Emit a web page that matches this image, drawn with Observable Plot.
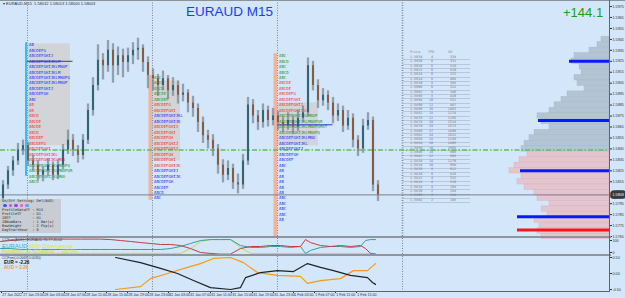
<!DOCTYPE html>
<html><head><meta charset="utf-8">
<script src="https://cdn.jsdelivr.net/npm/d3@7"></script>
<script src="https://cdn.jsdelivr.net/npm/@observablehq/plot@0.6"></script>
<style>
html,body{margin:0;padding:0;background:#d4e6fa;}
#wrap{position:relative;width:625px;height:298px;background:#d4e6fa;overflow:hidden;font-family:"Liberation Sans",Arial,sans-serif;}
.a{position:absolute;white-space:pre;line-height:1;}
.mono{font-family:"DejaVu Sans Mono",monospace;}
</style></head>
<body><div id="wrap"></div>
<script>
// ---------- DATA ----------
const open  = [1.5800,1.5812,1.5825,1.5834,1.5844,1.5848,1.5834,1.5830,1.5821,1.5825,
1.5830,1.5821,1.5830,1.5844,1.5853,1.5844,1.5839,1.5853,1.5880,1.5903,
1.5926,1.5921,1.5935,1.5921,1.5930,1.5924,1.5930,1.5935,1.5937,1.5924,
1.5912,1.5909,1.5903,1.5909,1.5898,1.5903,1.5894,1.5896,1.5887,1.5882,
1.5869,1.5857,1.5853,1.5845,1.5830,1.5821,1.5827,1.5814,1.5812,1.5834,
1.5885,1.5875,1.5869,1.5880,1.5871,1.5875,1.5869,1.5866,1.5871,1.5865,
1.5873,1.5878,1.5921,1.5903,1.5889,1.5894,1.5887,1.5875,1.5880,1.5866,
1.5873,1.5853,1.5845,1.5866,1.5871,1.5812];
const high  = [1.5816,1.5829,1.5838,1.5850,1.5853,1.5851,1.5839,1.5834,1.5829,1.5836,
1.5833,1.5835,1.5849,1.5862,1.5858,1.5848,1.5858,1.5886,1.5910,1.5940,
1.5932,1.5944,1.5941,1.5938,1.5936,1.5937,1.5942,1.5946,1.5940,1.5929,
1.5918,1.5913,1.5916,1.5912,1.5910,1.5907,1.5904,1.5899,1.5893,1.5886,
1.5874,1.5862,1.5858,1.5849,1.5835,1.5834,1.5831,1.5822,1.5840,1.5892,
1.5890,1.5880,1.5886,1.5884,1.5882,1.5879,1.5874,1.5878,1.5875,1.5880,
1.5884,1.5928,1.5925,1.5908,1.5900,1.5898,1.5892,1.5886,1.5884,1.5880,
1.5877,1.5857,1.5872,1.5878,1.5874,1.5816];
const low   = [1.5796,1.5808,1.5820,1.5830,1.5839,1.5829,1.5825,1.5816,1.5815,1.5820,
1.5816,1.5817,1.5826,1.5840,1.5838,1.5832,1.5835,1.5849,1.5875,1.5898,
1.5908,1.5915,1.5905,1.5912,1.5910,1.5915,1.5922,1.5926,1.5915,1.5900,
1.5898,1.5893,1.5898,1.5890,1.5893,1.5886,1.5888,1.5878,1.5874,1.5860,
1.5850,1.5845,1.5838,1.5822,1.5814,1.5816,1.5808,1.5804,1.5808,1.5830,
1.5868,1.5862,1.5864,1.5865,1.5866,1.5862,1.5860,1.5862,1.5858,1.5861,
1.5869,1.5874,1.5898,1.5882,1.5884,1.5880,1.5868,1.5870,1.5860,1.5862,
1.5846,1.5838,1.5841,1.5862,1.5806,1.5797];
const close = [1.5812,1.5825,1.5834,1.5844,1.5848,1.5834,1.5830,1.5821,1.5825,1.5830,
1.5821,1.5830,1.5844,1.5853,1.5844,1.5839,1.5853,1.5880,1.5903,1.5926,
1.5921,1.5935,1.5921,1.5930,1.5924,1.5930,1.5935,1.5937,1.5924,1.5912,
1.5909,1.5903,1.5909,1.5898,1.5903,1.5894,1.5896,1.5887,1.5882,1.5869,
1.5857,1.5853,1.5845,1.5830,1.5821,1.5827,1.5814,1.5812,1.5834,1.5885,
1.5875,1.5869,1.5880,1.5871,1.5875,1.5869,1.5866,1.5871,1.5865,1.5873,
1.5878,1.5921,1.5903,1.5889,1.5894,1.5887,1.5875,1.5880,1.5866,1.5873,
1.5853,1.5845,1.5866,1.5871,1.5812,1.5803];

const priceTicks = [1.5975,1.5965,1.5955,1.5945,1.5935,1.5925,1.5915,1.5905,1.5895,1.5885,1.5875,
1.5865,1.5855,1.5845,1.5835,1.5825,1.5815,1.5795,1.5785,1.5775,1.5765];
const curPrice = 1.5803;
const keyLevel = 1.5844;
const daySepIdx = [4.9, 29.9, 54.9, 79.9];

const timeLabels = ["27 Jan 2022","27 Jan 23:00","28 Jan 03:00","28 Jan 07:00","28 Jan 11:00","28 Jan 15:00",
"28 Jan 19:00","28 Jan 23:00","31 Jan 03:00","31 Jan 07:00","31 Jan 11:00","31 Jan 15:00","31 Jan 19:00",
"31 Jan 23:00","1 Feb 03:00","1 Feb 07:00","1 Feb 11:00","1 Feb 15:00"];
const timeIdx = [-0.3,3.9,8.1,12.3,16.5,20.7,24.9,29.1,33.1,37.3,41.5,45.7,49.9,54.1,58.1,62.3,66.5,70.7];

// market-profile boxes (x in bar index, y in price)
const boxX1 = [4.9, 29.9, 54.9], boxX2 = [13.5, 35.5, 63.1];
const boxLo = [1.5848, 1.5834, 1.5848], boxHi = [1.5941, 1.5907, 1.5887];
const colX1 = [29.2, 54.2], colX2 = [29.9, 54.9], colLo = [1.5798, 1.57641], colHi = [1.5912, 1.5932];

const tpoLetters = "ABCDEFGHIJKLMNOPQRSTUVWXabcdefgh";
const tpoStart = [5.2, 30.2, 55.2];
const tpo1Price = [1.5940,1.5935,1.5930,1.5925,1.5920,1.5915,1.5910,1.5905,1.5900,1.5895,1.5890,1.5885,1.5880,
1.5875,1.5870,1.5865,1.5860,1.5855,1.5850,1.5845,1.5840,1.5835,1.5830,1.5825,1.5820,1.5815];
const tpo1Len = [2,7,10,13,16,13,17,16,10,8,3,2,2,4,5,5,4,6,7,9,12,15,17,18,15,4];
const tpo1Col = "bbbbbbbbbbbrrrrrrrrrrrgggg";
const tpo2Price = [1.5910,1.5905,1.5900,1.5895,1.5890,1.5885,1.5880,1.5875,1.5870,1.5865,1.5860,1.5855,1.5850,
1.5845,1.5840,1.5835,1.5830,1.5825,1.5820,1.5815,1.5810,1.5805,1.5800];
const tpo2Len = [3,4,4,5,6,7,9,12,11,10,9,8,10,10,8,9,11,10,11,8,6,4,3];
const tpo2Col = "gggggrrbbrrrrrrrrbbbbbb";
const tpo3Price = [1.5930,1.5925,1.5920,1.5915,1.5910,1.5905,1.5900,1.5895,1.5890,1.5885,1.5880,1.5875,1.5870,
1.5865,1.5860,1.5855,1.5850,1.5845,1.5840,1.5835,1.5830,1.5825,1.5820,1.5815,1.5810,1.5805,1.5800,1.5795,1.5790,1.5785,1.5780];
const tpo3Len = [3,4,3,4,3,5,5,7,9,10,12,16,18,20,17,15,12,10,8,6,3,2,2,2,2,2,3,3,3,3,2];
const tpo3Col = "gggggrrrrrrggggbbbbbbbbbbbbbbbb";
const pocPrice = [1.5925, 1.5867], pocX1 = [4.9, 54.9], pocX2 = [14.0, 66.0];

// volume profile on the right
const profPrice = [1.5945,1.5940,1.5935,1.5930,1.5925,1.5920,1.5915,1.5910,1.5905,1.5900,1.5895,1.5890,1.5885,
1.5880,1.5875,1.5870,1.5865,1.5860,1.5855,1.5850,1.5845,1.5840,1.5835,1.5830,1.5825,1.5820,1.5815,1.5810,
1.5805,1.5800,1.5795,1.5790,1.5785,1.5780,1.5775,1.5770,1.5765];
const profVol = [8,12,20,35,38,30,28,35,32,25,42,48,55,60,72,68,60,75,80,85,88,82,90,95,100,88,92,85,75,72,60,68,62,75,70,72,68];
const levelPrice = [1.5925,1.5871,1.5825,1.5783,1.5771];
const levelLen = [40,71,89,92,92];
const levelKind = ["blue","blue","blue","blue","red"];

// TPO / volume table
const tblPrice = [1.5934,1.5930,1.5926,1.5922,1.5918,1.5914,1.5910,1.5906,1.5902,1.5898,1.5894,1.5890,1.5886,1.5882,
1.5878,1.5874,1.5870,1.5866,1.5862,1.5858,1.5854,1.5850,1.5846,1.5842,1.5838,1.5834,1.5830,1.5826,1.5822,1.5818,1.5814,1.5810,1.5806,1.5802];
const tblTPO = [4,6,6,6,6,8,8,6,8,8,10,12,16,18,22,20,24,27,24,18,20,16,14,12,14,10,8,6,4,4,4,2,2,2];
const tblVO = [338,331,516,510,372,404,385,312,346,420,531,487,1463,1274,1165,1318,1573,1806,1632,1249,1405,1095,908,804,1270,956,612,416,332,310,298,254,214,185];

// indicator 1 (divergence oscillator)
const oscIdx = [-0.5,1.5,3.5,5.5,7.5,9.5,11.5,13.5,15.5,17.5,19.5,21.5,23.5,25.5,27.5,29.5,31.5,33.5,35.5,37.5,
39.5,41.5,43.5,45.5,47.5,49.5,51.5,53.5,55.5,57.5,59.5,60.5,61.5,63.5,65.5,67.5,69.5,71.5,72.5,73.5,74.5];
const oscRed = [92,100,108,112,112,112,112,112,112,112,112,108,100,92,83,75,67,67,58,33,
0,-8,-14,-14,33,50,50,58,58,50,50,108,83,58,50,58,50,58,33,-8,-14];
const oscTeal = [33,33,25,25,25,25,25,25,25,25,25,25,25,25,25,25,25,33,50,75,
100,108,108,108,58,42,42,50,50,42,50,-8,17,42,50,50,42,50,100,108,108];
const oscYellow = [-8,-8,-8,-8,-8,-8,-8,-8,-8,-8,-8,-8,-8,-8,-8,-8,-8,-8,-8,33,
92,108,108,108,40,-8,-8,-8,-8,-8,-8,-8,-8,-8,-8,-8,-8,-8,-8,-8,-8];

// indicator 2 (CCFsm currency strength)
const eurIdx = [22.5,27.5,31.5,34.9,38.1,41.5,45.5,47.5,48.5,51.5,54.9,58.1,60.9,63.5,66.1,69.5,72.9,73.9,74.5];
const eurVal = [0.50,0.34,0.16,0.00,-0.22,-0.44,-0.50,-0.44,-0.13,0.03,0.09,0.06,0.31,0.19,0.09,-0.06,-0.13,-0.28,-0.34];
const audIdx = [22.5,27.5,29.5,32.9,36.9,39.5,42.1,45.5,48.1,50.9,54.9,59.5,60.9,63.5,67.5,70.1,72.9,74.5];
const audVal = [-0.50,-0.41,-0.16,0.00,0.19,0.31,0.47,0.50,0.34,0.03,-0.06,-0.09,-0.31,-0.22,-0.16,0.09,0.09,0.31];

const settingsLines = ["ProfileDataTF : M15","ProfileTF     : D1","IBTF          : H1","IBNumBars     : 1 Bar(s)","RowHeight     : 2 Pip(s)","DayStartHour  : 0"];
const settingDots = ["#3b55ff","#e040d8","#8a48e8","#ff4fc0","#5aa0ff"];

// ---------- BUILD ----------
const wrap = document.getElementById("wrap");
const xDom = [-0.5, 121.3];
const yMain = [1.57641, 1.59805];
const tpoColor = {b:"#1f2fff", r:"#f23232", g:"#169a16"};
const baseStyle = {background:"transparent", fontSize:"3.7px", fontFamily:"Liberation Sans, Arial, sans-serif", color:"#2a3038", overflow:"visible"};

function place(el, top){ el.style.position="absolute"; el.style.left="0px"; el.style.top=top+"px"; wrap.appendChild(el); }
function addDiv(html, css, cls){ const d=document.createElement("div"); d.className="a"+(cls?" "+cls:""); d.style.cssText=css; d.innerHTML=html; wrap.appendChild(d); return d; }

const candles = close.map((c,i)=>({i, o:open[i], h:high[i], l:low[i], c}));
const boxes = boxX1.map((x,k)=>({x1:x, x2:boxX2[k], y1:boxLo[k], y2:boxHi[k]}));
const cols = colX1.map((x,k)=>({x1:x, x2:colX2[k], y1:colLo[k], y2:colHi[k]}));
const mkTpo = (prices, lens, colStr, x) => prices.map((p,k)=>({x, p, t:tpoLetters.slice(0,lens[k]), c:tpoColor[colStr[k]]}));
const tpoRows = [...mkTpo(tpo1Price,tpo1Len,tpo1Col,tpoStart[0]), ...mkTpo(tpo2Price,tpo2Len,tpo2Col,tpoStart[1]), ...mkTpo(tpo3Price,tpo3Len,tpo3Col,tpoStart[2])];
const pocs = pocPrice.map((p,k)=>({p, x1:pocX1[k], x2:pocX2[k], c: k===0 ? "#3a4456" : "#2a36d0"}));

// volume profile (drawn first, underneath)
const profRows = profPrice.map((p,k)=>({p, lo:p-0.00025, hi:p+0.00025, v:profVol[k]}));
const levels = levelPrice.map((p,k)=>({p, len:levelLen[k], c: levelKind[k]==="red" ? "#ff1414" : "#0a18ff"}));
const prof = Plot.plot({
  width:625, height:237, marginLeft:509, marginRight:16, marginTop:0, marginBottom:0,
  style: baseStyle,
  x:{domain:[0,100], reverse:true, axis:null},
  y:{domain:yMain, axis:null},
  marks:[
    Plot.rect(profRows, {x1:0, x2:"v", y1:"lo", y2:"hi", fill:d=>d.p>=1.5842?"#b3c5d4":"#e4c4ce", stroke:d=>d.p>=1.5842?"#a3b8c9":"#d8b0be", strokeWidth:0.4}),
    Plot.ruleY(levels, {y:"p", x1:0, x2:"len", stroke:"c", strokeWidth:3})
  ]
});
place(prof, 0);

// TPO table
addDiv('Price', "left:410px;top:51px;font-size:3.4px;color:#7888a0;", "mono");
addDiv('TPO', "left:428px;top:51px;font-size:3.4px;color:#7888a0;", "mono");
addDiv('VO', "left:448px;top:51px;font-size:3.4px;color:#7888a0;", "mono");
tblPrice.forEach((p,k)=>{
  addDiv(`<span style="position:absolute;left:7px;top:0.4px">${p.toFixed(4)}</span><span style="position:absolute;right:37px;top:0.4px">${tblTPO[k]}</span><span style="position:absolute;right:14px;top:0.4px">${tblVO[k]}</span>`,
    `left:403px;top:${55.5+k*4.33}px;width:67px;height:3.9px;border-bottom:0.5px solid #b6c7dc;font-size:3.4px;color:#6b7b94;`, "mono");
});

// main price panel
const main = Plot.plot({
  width:625, height:237, marginLeft:0, marginRight:16, marginTop:0, marginBottom:0,
  style: baseStyle,
  x:{domain:xDom, axis:null},
  y:{domain:yMain, axis:"right", ticks:priceTicks, tickFormat:d=>d.toFixed(4), tickSize:2, tickPadding:1, label:null},
  marks:[
    Plot.rect(boxes, {x1:"x1", x2:"x2", y1:"y1", y2:"y2", fill:"#d3d4d7"}),
    Plot.rect(cols, {x1:"x1", x2:"x2", y1:"y1", y2:"y2", fill:"#f3b29a"}),
    Plot.ruleX(daySepIdx, {stroke:"#7b8794", strokeWidth:d=>d>70?1.6:1, strokeDasharray:"1,1.5"}),
    Plot.ruleX([{x:4.6, y1:1.5820, y2:1.5942}], {x:"x", y1:"y1", y2:"y2", stroke:"#10b4ee", strokeWidth:1.6}),
    Plot.ruleY([keyLevel], {stroke:"#5cc05c", strokeWidth:1.4, strokeDasharray:"5,2,1.5,2"}),
    Plot.ruleY([curPrice], {stroke:"#7b828a", strokeWidth:1}),
    Plot.text(tpoRows, {x:"x", y:"p", text:"t", fill:"c", textAnchor:"start", fontSize:4, fontFamily:"DejaVu Sans Mono"}),
    Plot.ruleY(pocs, {y:"p", x1:"x1", x2:"x2", stroke:"c", strokeWidth:1}),
    Plot.ruleX(candles, {x:"i", y1:"l", y2:"h", stroke:"#93a1ae", strokeWidth:2.6, strokeOpacity:0.5}),
    Plot.ruleX(candles, {x:"i", y1:"l", y2:"h", stroke:"#5f6b76", strokeWidth:0.8}),
    Plot.ruleX(candles, {x:"i", y1:"o", y2:"c", stroke:d=>d.c>=d.o?"#225c6a":"#88502e", strokeWidth:1.7}),
    Plot.text([curPrice], {x:()=>xDom[1], y:d=>d, text:d=>d.toFixed(4), dx:3, textAnchor:"start", fill:"#ffffff", stroke:"#353a40", strokeWidth:5.5, paintOrder:"stroke", fontSize:3.7})
  ]
});
place(main, 0);

// indicator panel 1
const p2 = Plot.plot({
  width:625, height:16, marginLeft:0, marginRight:16, marginTop:0, marginBottom:0,
  style: baseStyle,
  x:{domain:xDom, axis:null},
  y:{domain:[-17,117], axis:"right", ticks:[0,100], tickSize:2, tickPadding:1, label:null},
  marks:[
    Plot.ruleX(daySepIdx, {stroke:"#7b8794", strokeDasharray:"1,1.5"}),
    Plot.line(oscIdx.map((x,k)=>({x, v:oscYellow[k]})), {x:"x", y:"v", stroke:"#c9d84a", strokeWidth:1}),
    Plot.line(oscIdx.map((x,k)=>({x, v:oscTeal[k]})), {x:"x", y:"v", stroke:"#2ea3a3", strokeWidth:1}),
    Plot.line(oscIdx.map((x,k)=>({x, v:oscRed[k]})), {x:"x", y:"v", stroke:"#c83a40", strokeWidth:1})
  ]
});
place(p2, 238);

// indicator panel 2
const p3 = Plot.plot({
  width:625, height:42, marginLeft:0, marginRight:16, marginTop:0, marginBottom:7,
  style: baseStyle,
  x:{domain:xDom, axis:"bottom", ticks:timeIdx, tickFormat:()=>"", tickSize:2, label:null},
  y:{domain:[-0.5625, 0.53125], axis:"right", ticks:[0.5,0,-0.5], tickFormat:d=>d.toFixed(2), tickSize:2, tickPadding:1, label:null},
  marks:[
    Plot.ruleX(daySepIdx, {stroke:"#7b8794", strokeDasharray:"1,1.5"}),
    Plot.line(audIdx.map((x,k)=>({x, v:audVal[k]})), {x:"x", y:"v", stroke:"#f39a1e", strokeWidth:1.2}),
    Plot.line(eurIdx.map((x,k)=>({x, v:eurVal[k]})), {x:"x", y:"v", stroke:"#1e2226", strokeWidth:1.2}),
    Plot.text(timeLabels, {x:(d,i)=>timeIdx[i], frameAnchor:"bottom", dy:4.6, dx:0.8, textAnchor:"start", fontSize:3.6, fill:"#2a3038"})
  ]
});
place(p3, 256);

// frame lines & separators
addDiv("", "left:0;top:0;width:625px;height:1px;background:#8a929a;");
addDiv("", "left:0;top:236px;width:611px;height:2px;background:#8d959d;");
addDiv("", "left:0;top:254px;width:611px;height:2px;background:#8d959d;");
addDiv("", "left:0;top:291px;width:610px;height:1px;background:#5d656d;");
addDiv("", "left:609px;top:0;width:1px;height:292px;background:#5d656d;");

// annotations
addDiv("▾ EURAUD,M15  1.58012 1.58013 1.58000 1.58003", "left:3px;top:2px;font-size:4px;color:#2a3038;");
addDiv("EURAUD M15", "left:186px;top:5px;font-size:13.5px;color:#1e3cf0;");
addDiv("+144.1", "left:563px;top:6px;font-size:13px;color:#17a017;");

// settings box
addDiv("", "left:0;top:199px;width:61px;height:34px;background:#c8cdd4;");
addDiv("On/Off Setting: Del(NUO)", "left:2px;top:199.8px;font-size:3.6px;color:#2a2a2a;", "mono");
settingDots.forEach((c,k)=>addDiv("", `left:${3+k*5.5}px;top:203.5px;width:3.6px;height:3.6px;border-radius:50%;background:${c};`));
settingsLines.forEach((t,k)=>addDiv(t, `left:2px;top:${209+k*3.9}px;font-size:3.6px;color:#2a2a2a;`, "mono"));

// indicator labels
addDiv("CCFsm(AUD) | EURAUD 76.77 45.02", "left:2px;top:238.8px;font-size:3.6px;color:#3a4048;");
addDiv('<span style="color:#2fb0d0">EURAUD</span> <span style="color:#e6e61a">60% Divergence</span>', "left:2px;top:243.2px;font-size:6px;");
addDiv("Probability: 81.40 Bearish → 100.0%", "left:2px;top:249.5px;font-size:4.6px;color:#d8d81a;");
addDiv("CCFsm(-0.0069 0.0030)", "left:2px;top:256.6px;font-size:3.6px;color:#3a4048;");
addDiv("EUR = -2.26", "left:4px;top:261px;font-size:4.6px;font-weight:bold;color:#111111;");
addDiv("AUD = 2.26", "left:4px;top:266px;font-size:4.6px;font-weight:bold;color:#f39a1e;");
</script></body></html>
